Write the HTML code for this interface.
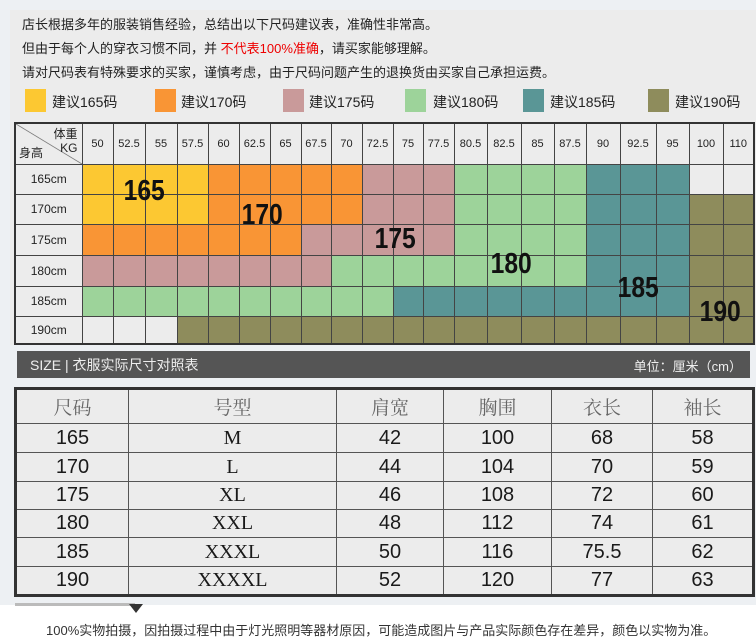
<!DOCTYPE html>
<html><head><meta charset="utf-8"><style>
*{margin:0;padding:0;box-sizing:border-box}
body{width:756px;height:641px;background:#edf0f3;position:relative;overflow:hidden;font-family:"Liberation Sans","Noto Sans CJK SC",sans-serif}
.a{position:absolute}
.panel{left:10px;top:10px;width:746px;height:335px;background:#ececec}
.t{left:22px;font-size:13px;color:#222;white-space:nowrap}
.sw{width:21px;height:23px;top:89px}
.lg{top:92px;font-size:14px;color:#222}
table{border-collapse:collapse;position:absolute}
#g{left:14px;top:122px;border:2px solid #333}
#g td{border:1px solid #444;padding:0;text-align:center;font-size:11px;color:#222}
.big{font-family:"Liberation Sans Narrow","Liberation Sans",sans-serif;font-weight:bold;font-size:29px;color:#111;transform:scaleX(.85)}
#s{left:14px;top:387px;border:3px solid #333;background:#ececec}
#s td{border:1px solid #555;text-align:center;font-size:20px;color:#1a1a1a}
#s tr:first-child td{font-family:"Noto Serif CJK SC",serif;color:#666;font-size:19px}
.sf{font-family:"Liberation Serif",serif}
</style></head><body>
<div class="a panel"></div>
<div class="a t" style="top:14px">店长根据多年的服装销售经验，总结出以下尺码建议表，准确性非常高。</div>
<div class="a t" style="top:38px">但由于每个人的穿衣习惯不同，并 <span style="color:#e00">不代表100%准确</span>，请买家能够理解。</div>
<div class="a t" style="top:62px">请对尺码表有特殊要求的买家，谨慎考虑，由于尺码问题产生的退换货由买家自己承担运费。</div>
<div class="a sw" style="left:25px;background:#fcc832"></div><div class="a lg" style="left:52px">建议165码</div>
<div class="a sw" style="left:155px;background:#f99535"></div><div class="a lg" style="left:181px">建议170码</div>
<div class="a sw" style="left:283px;background:#c99a9a"></div><div class="a lg" style="left:309px">建议175码</div>
<div class="a sw" style="left:405px;background:#9dd39a"></div><div class="a lg" style="left:433px">建议180码</div>
<div class="a sw" style="left:523px;background:#5a9696"></div><div class="a lg" style="left:550px">建议185码</div>
<div class="a sw" style="left:648px;background:#8e8c5c"></div><div class="a lg" style="left:675px">建议190码</div>

<table id="g">
<colgroup><col style="width:67px"><col style="width:31px"><col style="width:32px"><col style="width:32px"><col style="width:31px"><col style="width:31px"><col style="width:31px"><col style="width:31px"><col style="width:30px"><col style="width:31px"><col style="width:31px"><col style="width:30px"><col style="width:31px"><col style="width:33px"><col style="width:34px"><col style="width:33px"><col style="width:32px"><col style="width:34px"><col style="width:36px"><col style="width:33px"><col style="width:34px"><col style="width:31px"></colgroup>
<tr style="height:41px;background:#ececec"><td style="position:relative;background:linear-gradient(to top right,#ececec 49%,#666 50%,#ececec 51%)"><span class="a" style="right:4px;top:3px;font-size:12px;line-height:14px;text-align:right">体重<br>KG</span><span class="a" style="left:3px;bottom:3px;font-size:12px">身高</span></td>
<td>50</td><td>52.5</td><td>55</td><td>57.5</td><td>60</td><td>62.5</td><td>65</td><td>67.5</td><td>70</td><td>72.5</td><td>75</td><td>77.5</td><td>80.5</td><td>82.5</td><td>85</td><td>87.5</td><td>90</td><td>92.5</td><td>95</td><td>100</td><td>110</td></tr>
</table>
<script>
var C={Y:'#fcc832',O:'#f99535',P:'#c99a9a',G:'#9dd39a',T:'#5a9696',L:'#8e8c5c',W:'#ececec'};
var rows=[['165cm','YYYYOOOOOPPPGGGGTTTWW'],['170cm','YYYYOOOOOPPPGGGGTTTLL'],['175cm','OOOOOOOPPPPPGGGGTTTLL'],['180cm','PPPPPPPPGGGGGGGGTTTLL'],['185cm','GGGGGGGGGGTTTTTTTTTLL'],['190cm','WWWLLLLLLLLLLLLLLLLLL']];
var hs=[30,30,31,31,30,28];var t=document.getElementById('g');
rows.forEach(function(r,i){var tr=t.insertRow();tr.style.height=hs[i]+'px';var c=tr.insertCell();c.textContent=r[0];c.style.background='#ececec';c.style.fontSize='12px';
for(var j=0;j<21;j++){var d=tr.insertCell();d.style.background=C[r[1][j]];}});
</script>
<div class="a big" style="left:120px;top:175px">165</div>
<div class="a big" style="left:238px;top:199px">170</div>
<div class="a big" style="left:371px;top:223px">175</div>
<div class="a big" style="left:487px;top:248px">180</div>
<div class="a big" style="left:614px;top:272px">185</div>
<div class="a big" style="left:696px;top:296px">190</div>

<div class="a" style="left:17px;top:351px;width:733px;height:27px;background:#555"></div>
<div class="a" style="left:30px;top:355px;color:#eee;font-size:14px">SIZE | 衣服实际尺寸对照表</div>
<div class="a" style="right:14px;top:356px;color:#eee;font-size:13px">单位：厘米（cm）</div>

<table id="s">
<colgroup><col style="width:113px"><col style="width:208px"><col style="width:107px"><col style="width:108px"><col style="width:101px"><col style="width:101px"></colgroup>
<tr style="height:35px"><td>尺码</td><td>号型</td><td>肩宽</td><td>胸围</td><td>衣长</td><td>袖长</td></tr>
<tr style="height:29px"><td>165</td><td class="sf">M</td><td>42</td><td>100</td><td>68</td><td>58</td></tr>
<tr style="height:29px"><td>170</td><td class="sf">L</td><td>44</td><td>104</td><td>70</td><td>59</td></tr>
<tr style="height:28px"><td>175</td><td class="sf">XL</td><td>46</td><td>108</td><td>72</td><td>60</td></tr>
<tr style="height:28px"><td>180</td><td class="sf">XXL</td><td>48</td><td>112</td><td>74</td><td>61</td></tr>
<tr style="height:29px"><td>185</td><td class="sf">XXXL</td><td>50</td><td>116</td><td>75.5</td><td>62</td></tr>
<tr style="height:29px"><td>190</td><td class="sf">XXXXL</td><td>52</td><td>120</td><td>77</td><td>63</td></tr>
</table>
<div class="a" style="left:0;top:605px;width:756px;height:36px;background:#fff"></div>
<div class="a" style="left:15px;top:603px;width:120px;height:3px;background:#bbb"></div>
<div class="a" style="left:129px;top:604px;width:0;height:0;border-left:7px solid transparent;border-right:7px solid transparent;border-top:9px solid #333"></div>
<div class="a" style="left:46px;top:620px;font-size:13px;color:#333;white-space:nowrap">100%实物拍摄，因拍摄过程中由于灯光照明等器材原因，可能造成图片与产品实际颜色存在差异，颜色以实物为准。</div>
</body></html>
